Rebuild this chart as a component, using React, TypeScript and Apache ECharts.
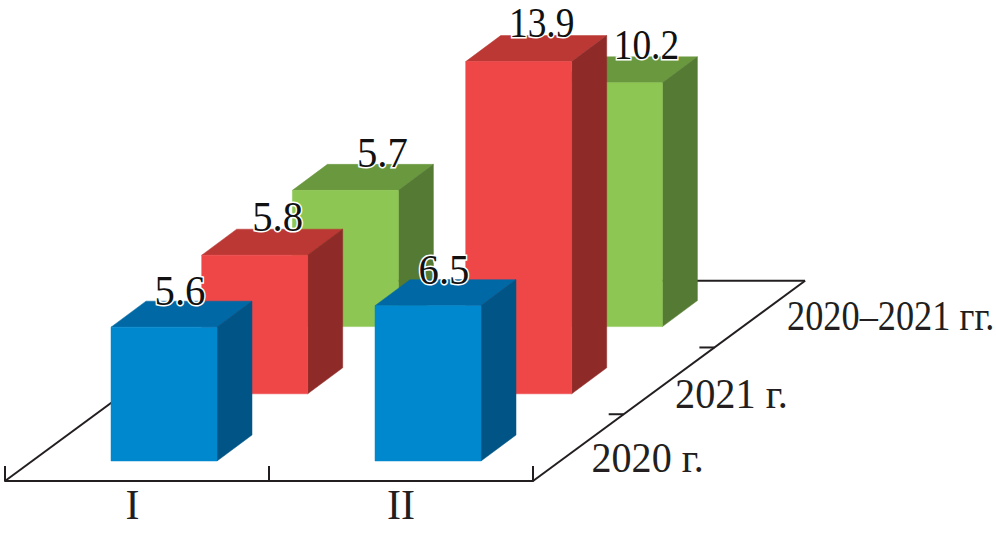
import React, { useEffect, useRef } from "react";
import * as echarts from "echarts";

const groups = ["I", "II"];
const rows = ["2020 г.", "2021 г.", "2020–2021 гг."];
const values2020 = [5.6, 6.5];
const values2021 = [5.8, 13.9];
const values2020to2021 = [5.7, 10.2];

const rowValues = [values2020, values2021, values2020to2021];
const faces = [
  { front: "#0088ce", top: "#0069a5", side: "#005586" },
  { front: "#ef4648", top: "#bb3835", side: "#8e2a28" },
  { front: "#8dc652", top: "#6a983f", side: "#557a33" },
];

const FONT = '"Liberation Serif", "Times New Roman", serif';
const INK = "#231f20";
const ROW_DX = 90.7;
const ROW_DY = -67.2;
const DEPTH_X = 35;
const DEPTH_Y = -26;
const BAR_W = 106;
const BAR_SHIFT = -26;
const BASELINE = 36;
const LABEL_DX = [69, 76, 90];
const LABEL_DY = [-21, -23, -23];
const ROW_LABEL_POS = [
  { x: 591.5, y: 473, sx: 0.955 },
  { x: 675, y: 409, sx: 0.96 },
  { x: 787, y: 331, sx: 0.865 },
];

// draw order: far rows first, so the near bars overlap them
const barData: number[][] = [];
for (let r = rows.length - 1; r >= 0; r--) {
  groups.forEach((_, g) => barData.push([g, rowValues[r][g], r]));
}

const poly = (points: number[][], fill: string) => ({
  type: "polygon",
  shape: { points },
  style: { fill, stroke: fill, lineWidth: 0.5 },
});

export default function App() {
  const ref = useRef<HTMLDivElement>(null);
  useEffect(() => {
    document.body.style.margin = "0";
    const chart = echarts.init(ref.current!, undefined, { renderer: "svg" });
    const gridLeft = 5;
    const gridWidth = 528;
    const gridTop = 102.5;
    const gridBottom = 73;
    const labelFont = { fontFamily: FONT, fontSize: 42, color: INK };

    chart.setOption({
      animation: false,
      backgroundColor: "#ffffff",
      grid: { left: gridLeft, width: gridWidth, top: gridTop, bottom: gridBottom },
      xAxis: {
        type: "category",
        data: groups,
        offset: 20,
        axisLine: { onZero: false, lineStyle: { color: INK, width: 2 } },
        axisTick: { show: true, inside: true, length: 15, lineStyle: { color: INK, width: 2 } },
        axisLabel: {
          margin: 3,
          formatter: (v: string) => (v === "I" ? `{a|${v}}` : `{b|${v}}`),
          rich: {
            a: { ...labelFont, padding: [0, 9, 0, 0] },
            b: { ...labelFont },
          },
        },
      },
      yAxis: { type: "value", min: 0, max: 15, interval: 5, show: false },
      series: [
        {
          type: "custom",
          silent: true,
          z: 1,
          coordinateSystem: "cartesian2d",
          data: [[0, 0]],
          encode: { x: 0, y: 1 },
          renderItem: (_: any, api: any) => {
            const y = api.coord([0, 0])[1] + 20;
            const l = gridLeft;
            const r = gridLeft + gridWidth;
            const dx = ROW_DX * 3;
            const dy = ROW_DY * 3 + 1.3;
            const st = { stroke: INK, lineWidth: 2, fill: "none" };
            const seg = (x1: number, y1: number, x2: number, y2: number) => ({
              type: "line",
              shape: { x1, y1, x2, y2 },
              style: st,
            });
            const t1 = 1 / 3;
            const t2 = 2 / 3;
            return {
              type: "group",
              children: [
                seg(l, y, l + dx, y + dy),
                seg(l + dx, y + dy, r + dx, y + dy),
                seg(r, y, r + dx, y + dy),
                seg(r + dx * t1 - 15, y + dy * t1, r + dx * t1, y + dy * t1),
                seg(r + dx * t2 - 15, y + dy * t2, r + dx * t2, y + dy * t2),
              ],
            };
          },
        },
        {
          type: "custom",
          silent: true,
          z: 2,
          coordinateSystem: "cartesian2d",
          data: barData,
          encode: { x: 0, y: 1 },
          renderItem: (_: any, api: any) => {
            const g = api.value(0);
            const v = api.value(1);
            const r = api.value(2);
            const c = faces[r];
            const base = api.coord([g, 0]);
            const top = api.coord([g, v]);
            const x0 = base[0] + BAR_SHIFT + r * ROW_DX;
            const x1 = x0 + BAR_W;
            const yb = base[1] + r * ROW_DY;
            const yt = top[1] + r * ROW_DY;
            return {
              type: "group",
              children: [
                poly([[x0, yt], [x1, yt], [x1 + DEPTH_X, yt + DEPTH_Y], [x0 + DEPTH_X, yt + DEPTH_Y]], c.top),
                poly([[x1, yt], [x1 + DEPTH_X, yt + DEPTH_Y], [x1 + DEPTH_X, yb + DEPTH_Y], [x1, yb]], c.side),
                poly([[x0, yt], [x1, yt], [x1, yb], [x0, yb]], c.front),
              ],
            };
          },
        },
        {
          type: "custom",
          silent: true,
          z: 3,
          coordinateSystem: "cartesian2d",
          data: barData,
          encode: { x: 0, y: 1 },
          renderItem: (_: any, api: any) => {
            const g = api.value(0);
            const v = api.value(1);
            const r = api.value(2);
            const base = api.coord([g, 0]);
            const top = api.coord([g, v]);
            const x0 = base[0] + BAR_SHIFT + r * ROW_DX;
            const yt = top[1] + r * ROW_DY;
            return {
              type: "text",
              x: x0 + LABEL_DX[r],
              y: yt + LABEL_DY[r] - BASELINE,
              scaleX: v >= 10 ? 0.89 : 0.97,
              style: {
                text: v.toFixed(1),
                font: `42px ${FONT}`,
                fill: "#111111",
                stroke: "#ffffff",
                lineWidth: 3,
                align: "center",
                verticalAlign: "top",
              },
            };
          },
        },
        {
          type: "custom",
          silent: true,
          z: 3,
          coordinateSystem: "cartesian2d",
          data: rows.map((_, i) => [0, 0, i]),
          encode: { x: 0, y: 1 },
          renderItem: (_: any, api: any) => {
            const i = api.value(2);
            const p = ROW_LABEL_POS[i];
            return {
              type: "text",
              x: p.x,
              y: p.y - BASELINE,
              scaleX: p.sx,
              style: {
                text: rows[i],
                font: `42px ${FONT}`,
                fill: INK,
                align: "left",
                verticalAlign: "top",
              },
            };
          },
        },
      ],
    });
    return () => chart.dispose();
  }, []);
  return <div ref={ref} style={{ width: 996, height: 534 }} />;
}
